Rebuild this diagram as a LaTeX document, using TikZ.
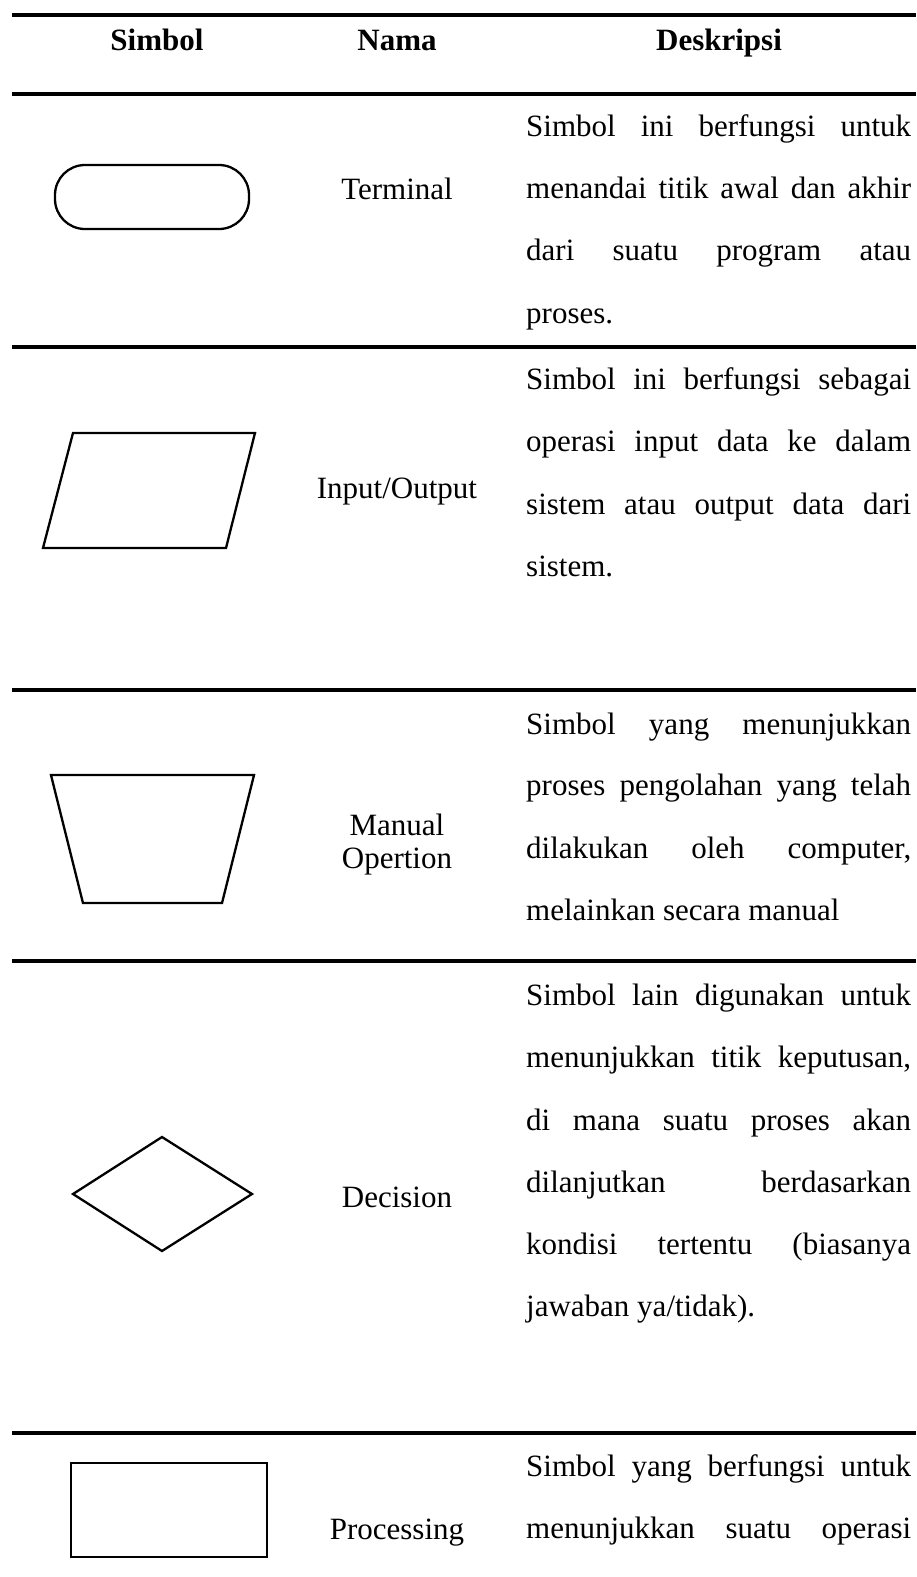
\documentclass[tikz,border=0pt]{standalone}
\usepackage{fontspec}
\setmainfont{Liberation Serif}
\newcommand{\jline}[1]{\makebox[385pt][s]{#1}}
\tikzset{
  tablerule/.style={line width=4.5pt},
  symline/.style={line width=2.3pt, line join=miter},
  desc/.style={inner sep=0pt, anchor=base west, font=\fontsize{31}{31}\selectfont},
  namelbl/.style={inner sep=0pt, anchor=base, align=center, font=\fontsize{31}{34}\selectfont},
  hdr/.style={inner sep=0pt, anchor=base, font=\fontsize{31}{31}\selectfont\bfseries},
}
\begin{document}
\begin{tikzpicture}[x=1pt,y=-1pt]
\useasboundingbox (0,0) rectangle (916,1577);
% rules
\draw[tablerule] (12,15) -- (916,15);
\draw[tablerule] (12,94) -- (916,94);
\draw[tablerule] (12,347) -- (916,347);
\draw[tablerule] (12,690) -- (916,690);
\draw[tablerule] (12,961) -- (916,961);
\draw[tablerule] (12,1433) -- (916,1433);
% header
\node[hdr] (hsim) at (157,50) {Simbol};
\node[hdr] (hnam) at (397,50) {Nama};
\node[hdr] (hdes) at (719,50) {Deskripsi};
% row 1 terminal
\draw[symline, rounded corners=30pt] (55,165) rectangle (249,229);
\node[namelbl] (n1) at (397,199) {Terminal};
\node[desc] (d11) at (526,136) {\jline{Simbol ini berfungsi untuk}};
\node[desc] (d12) at (526,198) {\jline{menandai titik awal dan akhir}};
\node[desc] (d13) at (526,260) {\jline{dari suatu program atau}};
\node[desc] (d14) at (526,323) {proses.};
% row 2 input/output
\draw[symline] (73,433) -- (255,433) -- (226,548) -- (43,548) -- cycle;
\node[namelbl] (n2) at (397,498) {Input/Output};
\node[desc] (d21) at (526,389) {\jline{Simbol ini berfungsi sebagai}};
\node[desc] (d22) at (526,451) {\jline{operasi input data ke dalam}};
\node[desc] (d23) at (526,514) {\jline{sistem atau output data dari}};
\node[desc] (d24) at (526,576) {sistem.};
% row 3 manual operation
\draw[symline] (51,775) -- (254,775) -- (222,903) -- (83,903) -- cycle;
\node[namelbl] (n3a) at (397,835) {Manual};
\node[namelbl] (n3b) at (397,868) {Opertion};
\node[desc] (d31) at (526,734) {\jline{Simbol yang menunjukkan}};
\node[desc] (d32) at (526,795) {\jline{proses pengolahan yang telah}};
\node[desc] (d33) at (526,858) {\jline{dilakukan oleh computer,}};
\node[desc] (d34) at (526,920) {melainkan secara manual};
% row 4 decision
\draw[symline] (73,1194) -- (162,1137) -- (252,1194) -- (162,1251) -- cycle;
\node[namelbl] (n4) at (397,1207) {Decision};
\node[desc] (d41) at (526,1005) {\jline{Simbol lain digunakan untuk}};
\node[desc] (d42) at (526,1067) {\jline{menunjukkan titik keputusan,}};
\node[desc] (d43) at (526,1130) {\jline{di mana suatu proses akan}};
\node[desc] (d44) at (526,1192) {\jline{dilanjutkan berdasarkan}};
\node[desc] (d45) at (526,1254) {\jline{kondisi tertentu (biasanya}};
\node[desc] (d46) at (526,1316) {jawaban ya/tidak).};
% row 5 processing
\draw[symline] (71,1463) rectangle (267,1557);
\node[namelbl] (n5) at (397,1539) {Processing};
\node[desc] (d51) at (526,1476) {\jline{Simbol yang berfungsi untuk}};
\node[desc] (d52) at (526,1538) {\jline{menunjukkan suatu operasi}};
\end{tikzpicture}
\end{document}
